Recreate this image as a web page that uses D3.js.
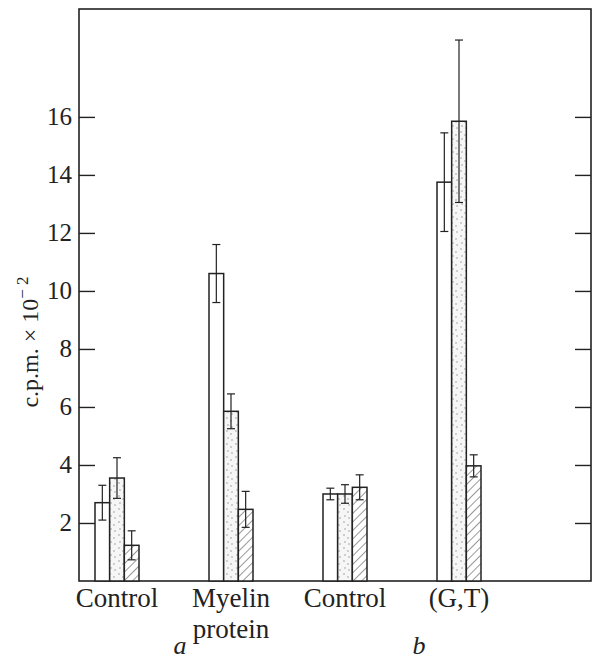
<!DOCTYPE html>
<html><head>
<meta charset="UTF-8">
<script src="https://cdn.jsdelivr.net/npm/d3@7"></script>
<style>
body{margin:0;background:#fff}
svg text{font-family:"Liberation Serif","Times New Roman",serif;fill:#222}
</style>
</head><body>
<div id="chart"></div>
<script>
// groups on the x axis (two panels: a and b)
var groups = ["ctrlA", "myelin", "ctrlB", "gt"];
var groupLabels = [["Control"], ["Myelin", "protein"], ["Control"], ["(G,T)"]];
var panels = ["a", "b"];
var panelGroups = [["ctrlA", "myelin"], ["ctrlB", "gt"]];

// three bars per group: open, stippled, hatched
var series = ["open", "stipple", "hatch"];
var openVals    = [2.7, 10.6, 3.0, 13.75];
var openErr     = [0.6, 1.0, 0.2, 1.7];
var stippleVals = [3.55, 5.85, 3.0, 15.85];
var stippleErr  = [0.7, 0.6, 0.32, 2.8];
var hatchVals   = [1.23, 2.47, 3.23, 3.97];
var hatchErr    = [0.5, 0.62, 0.43, 0.38];
var yTicks = [2, 4, 6, 8, 10, 12, 14, 16];

var W = 596, H = 661;
var mLeft = 79, mRight = 591, mTop = 9, mBottom = 581;

var svg = d3.select("#chart").append("svg").attr("width", W).attr("height", H);
var defs = svg.append("defs");

// stipple: sparse specks
var st = defs.append("pattern").attr("id", "stip").attr("patternUnits", "userSpaceOnUse")
  .attr("width", 9).attr("height", 13);
st.append("rect").attr("width", 9).attr("height", 13).attr("fill", "#f6f6f6");
[[2,2],[6,5],[3,9],[7,11]].forEach(function(p){
  st.append("circle").attr("cx", p[0]).attr("cy", p[1]).attr("r", 0.7).attr("fill", "#888");
});

// hatch: diagonal lines ///
var ht = defs.append("pattern").attr("id", "hatch").attr("patternUnits", "userSpaceOnUse")
  .attr("width", 6).attr("height", 6).attr("patternTransform", "rotate(45)");
ht.append("rect").attr("width", 6).attr("height", 6).attr("fill", "#fff");
ht.append("line").attr("x1", 0).attr("y1", 0).attr("x2", 0).attr("y2", 6)
  .attr("stroke", "#333").attr("stroke-width", 1);

var fills = {open: "#fff", stipple: "url(#stip)", hatch: "url(#hatch)"};

var y = d3.scaleLinear().domain([0, 19.72]).range([mBottom, mTop]);
var x = d3.scalePoint().domain(groups).range([117, 459]);
var xs = d3.scaleBand().domain(series).range([-22, 22]);

var rows = [];
groups.forEach(function(g, i){
  rows.push({g: g, s: "open", v: openVals[i], e: openErr[i]});
  rows.push({g: g, s: "stipple", v: stippleVals[i], e: stippleErr[i]});
  rows.push({g: g, s: "hatch", v: hatchVals[i], e: hatchErr[i]});
});

// frame
svg.append("rect").attr("x", mLeft).attr("y", mTop)
  .attr("width", mRight - mLeft).attr("height", mBottom - mTop)
  .attr("fill", "none").attr("stroke", "#222").attr("stroke-width", 1.6);

// left axis, ticks pointing in
var yl = svg.append("g").attr("transform", "translate(" + mLeft + ",0)")
  .call(d3.axisLeft(y).tickValues(yTicks).tickSizeInner(-16).tickSizeOuter(0).tickPadding(7));
yl.select(".domain").remove();
yl.selectAll(".tick line").attr("stroke", "#222").attr("stroke-width", 1.4);
yl.selectAll(".tick text").attr("font-size", 25).attr("fill", "#222")
  .attr("font-family", "Liberation Serif");

// right axis, ticks pointing in
var yr = svg.append("g").attr("transform", "translate(" + mRight + ",0)")
  .call(d3.axisRight(y).tickValues(yTicks).tickSizeInner(-16).tickSizeOuter(0).tickFormat(""));
yr.select(".domain").remove();
yr.selectAll(".tick line").attr("stroke", "#222").attr("stroke-width", 1.4);

// bars
svg.selectAll(".bar").data(rows).enter().append("rect")
  .attr("x", function(d){ return x(d.g) + xs(d.s); })
  .attr("y", function(d){ return y(d.v); })
  .attr("width", xs.bandwidth())
  .attr("height", function(d){ return y(0) - y(d.v); })
  .attr("fill", function(d){ return fills[d.s]; })
  .attr("stroke", "#222").attr("stroke-width", 1.5);

// error bars
var eb = svg.selectAll(".err").data(rows).enter().append("g")
  .attr("transform", function(d){ return "translate(" + (x(d.g) + xs(d.s) + xs.bandwidth() / 2) + ",0)"; });
eb.append("line").attr("y1", function(d){ return y(d.v + d.e); })
  .attr("y2", function(d){ return y(d.v - d.e); })
  .attr("stroke", "#222").attr("stroke-width", 1.2);
eb.selectAll(".cap").data(function(d){ return [d.v + d.e, d.v - d.e]; }).enter().append("line")
  .attr("x1", -4).attr("x2", 4)
  .attr("y1", function(v){ return y(v); }).attr("y2", function(v){ return y(v); })
  .attr("stroke", "#222").attr("stroke-width", 1.2);

// category labels
groups.forEach(function(g, i){
  groupLabels[i].forEach(function(t, j){
    svg.append("text").attr("x", x(g)).attr("y", 607 + j * 31)
      .attr("text-anchor", "middle").attr("font-size", 27).text(t);
  });
});

// panel letters
var panelShift = [6, 17];
panels.forEach(function(p, i){
  var mx = (x(panelGroups[i][0]) + x(panelGroups[i][1])) / 2 + panelShift[i];
  svg.append("text").attr("x", mx).attr("y", 654)
    .attr("text-anchor", "middle").attr("font-size", 26).attr("font-style", "italic").text(p);
});

// y title
var yt = svg.append("text").attr("transform", "translate(38,342) rotate(-90)")
  .attr("text-anchor", "middle").attr("font-size", 24);
yt.append("tspan").text("c.p.m. \u00d7 10");
yt.append("tspan").attr("dy", -10).attr("font-size", 17).text("\u2212 2");
</script>
</body></html>
